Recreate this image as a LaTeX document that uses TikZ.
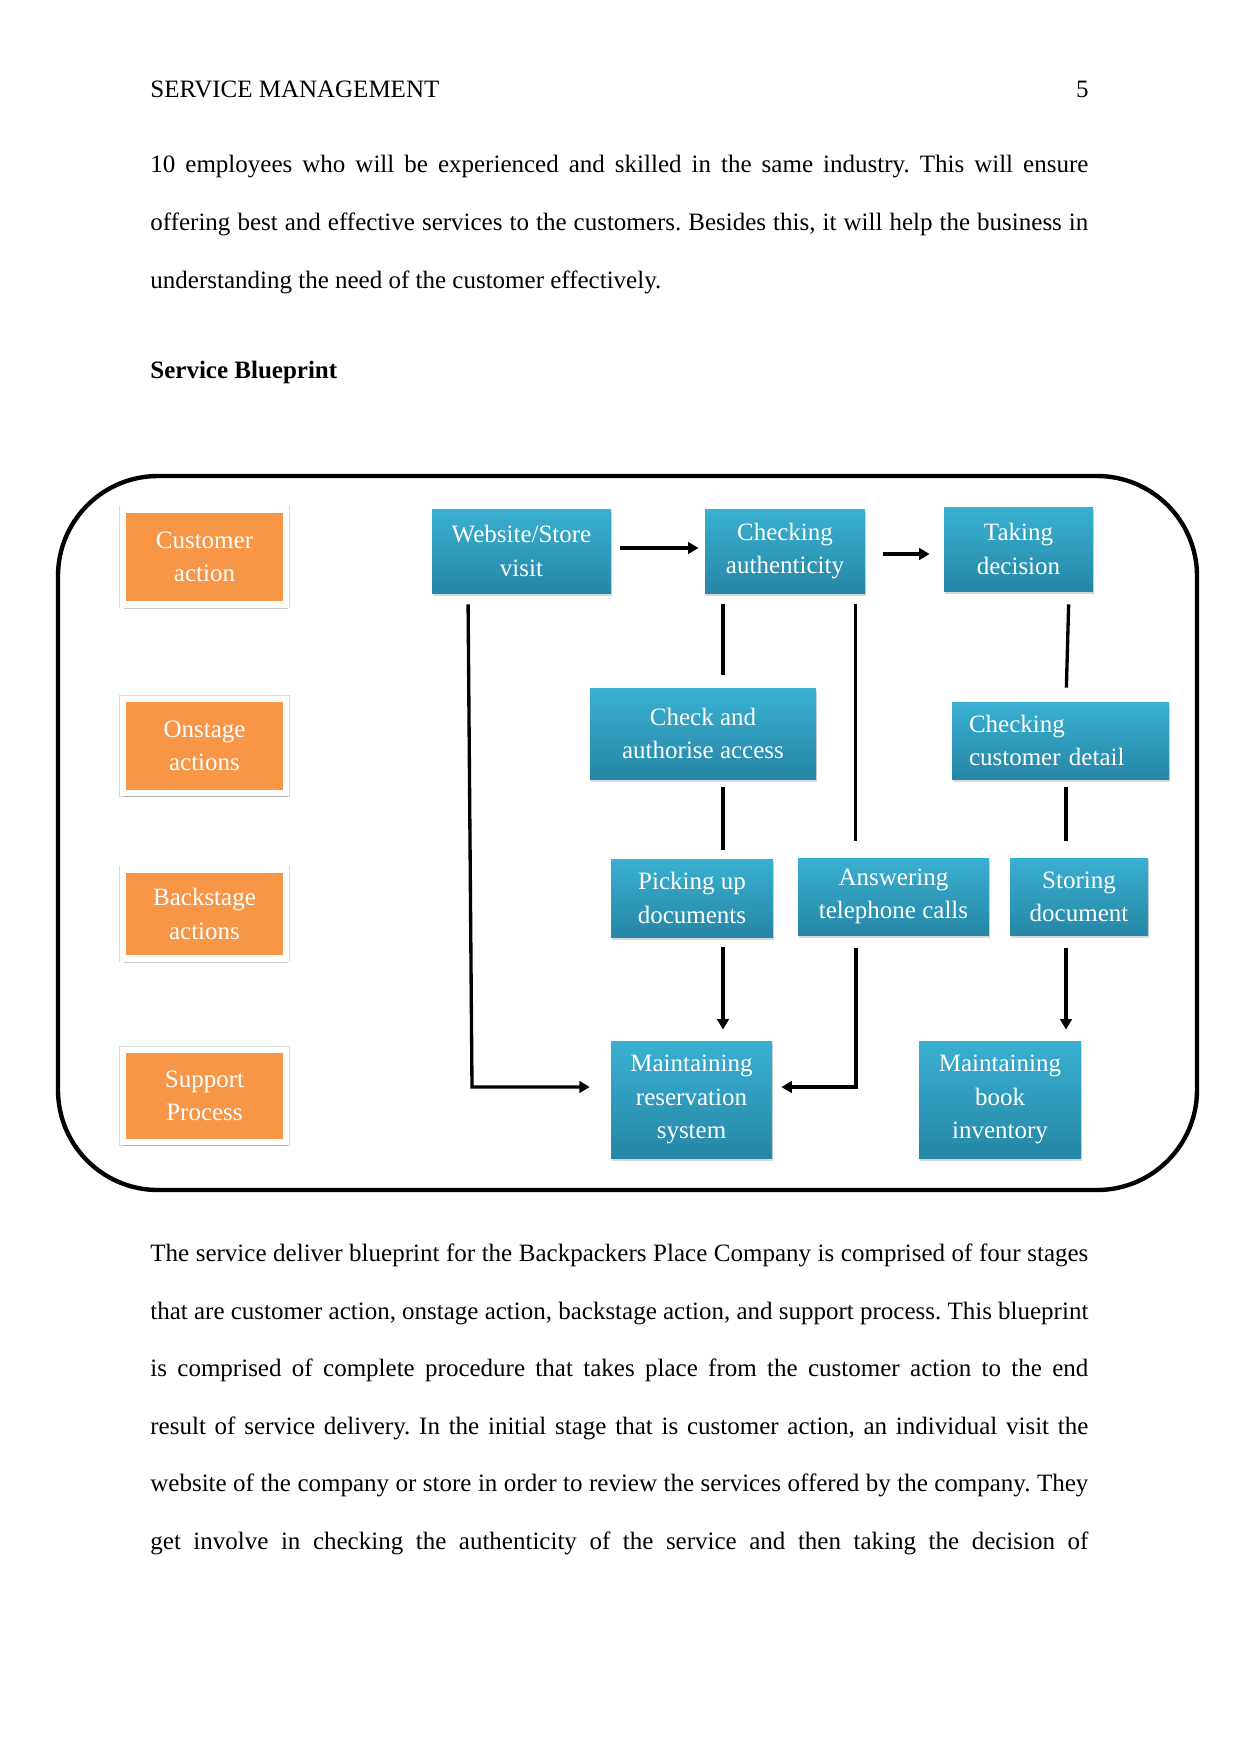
\documentclass[tikz,border=0pt]{standalone}
\usepackage{fontspec}
\setmainfont{Liberation Serif}
\usetikzlibrary{arrows.meta,shadows}
\definecolor{orng}{RGB}{247,150,70}
\definecolor{btop}{RGB}{58,176,210}
\definecolor{bbot}{RGB}{38,134,166}
\newlength{\txw}
\setlength{\txw}{450.2pt}
\newcommand{\jline}[1]{\makebox[\txw][s]{#1}}
\frenchspacing
\begin{document}
\begin{tikzpicture}[x=0.48pt,y=-0.48pt,
  bodytext/.style={anchor=base west,inner sep=0pt,font=\fontsize{12}{14}\selectfont},
  lanebox/.style={fill=orng,draw=white,line width=2.9pt,text=white,align=center,
    font=\fontsize{12}{16}\selectfont,inner sep=0pt,minimum width=163*0.48pt,
    preaction={draw=black!15,line width=3.7pt},
    drop shadow={opacity=0.3,fill=black!70,shadow xshift=0.7pt,shadow yshift=-1.9pt,shadow scale=1.01}},
  stepbox/.style={top color=btop,bottom color=bbot,text=white,align=center,
    font=\fontsize{12}{16}\selectfont,inner sep=0pt,
    drop shadow={opacity=0.3,shadow xshift=0.6pt,shadow yshift=-1.4pt}},
  ln/.style={line width=1.6pt},
  arr/.style={line width=1.6pt,-{Triangle[length=5pt,width=5.5pt]}}
]
\useasboundingbox (0,0) rectangle (1241,1754);
\fill[white] (0,0) rectangle (1241,1754);

% header and text
\node[bodytext] (hdr) at (150,97) {SERVICE MANAGEMENT};
\node[bodytext,anchor=base east] (pg) at (1089,97) {5};
\node[bodytext] (t1) at (150,172.7) {\jline{10 employees who will be experienced and skilled in the same industry. This will ensure}};
\node[bodytext] (t2) at (150,230.3) {\jline{offering best and effective services to the customers. Besides this, it will help the business in}};
\node[bodytext] (t3) at (150,288) {understanding the need of the customer effectively.};
\node[bodytext,font=\fontsize{12}{14}\selectfont\bfseries] (sb) at (150,378) {Service Blueprint};

\node[bodytext] (b1) at (150,1261) {\jline{The service deliver blueprint for the Backpackers Place Company is comprised of four stages}};
\node[bodytext] (b2) at (150,1319) {\jline{that are customer action, onstage action, backstage action, and support process. This blueprint}};
\node[bodytext] (b3) at (150,1376.5) {\jline{is comprised of complete procedure that takes place from the customer action to the end}};
\node[bodytext] (b4) at (150,1434) {\jline{result of service delivery. In the initial stage that is customer action, an individual visit the}};
\node[bodytext] (b5) at (150,1491.5) {\jline{website of the company or store in order to review the services offered by the company. They}};
\node[bodytext] (b6) at (150,1549) {\jline{get involve in checking the authenticity of the service and then taking the decision of}};

% frame
\draw[line width=2.1pt,rounded corners=48pt] (58,476) rectangle (1197,1190);

% lanes
\node[lanebox,minimum height=95*0.48pt] (cust) at (204.5,557) {Customer\\action};
\node[lanebox,minimum height=94*0.48pt] (onst) at (204.5,746) {Onstage\\actions};
\node[lanebox,minimum height=89*0.48pt] (back) at (204.5,914) {Backstage\\actions};
\node[lanebox,minimum height=92*0.48pt] (supp) at (204.5,1096) {Support\\Process};

% steps
\node[stepbox,minimum width=179*0.48pt,minimum height=84*0.48pt] (web) at (521.5,551) {Website/Store\\visit};
\node[stepbox,minimum width=160*0.48pt,minimum height=84*0.48pt] (chk) at (785,551) {Checking\\authenticity};
\node[stepbox,minimum width=149*0.48pt,minimum height=84*0.48pt] (take) at (1018.5,549) {Taking\\decision};
\node[stepbox,minimum width=226*0.48pt,minimum height=91*0.48pt] (auth) at (703,733.5) {Check and\\authorise access};
\node[stepbox,minimum width=217*0.48pt,minimum height=77*0.48pt,align=left,text width=183*0.48pt] (ccd) at (1060.5,740.5) {Checking\\customer detail};
\node[stepbox,minimum width=162*0.48pt,minimum height=78*0.48pt] (pick) at (692,898) {Picking up\\documents};
\node[stepbox,minimum width=191*0.48pt,minimum height=77*0.48pt] (ans) at (893.5,896.5) {Answering\\telephone calls};
\node[stepbox,minimum width=138*0.48pt,minimum height=77*0.48pt] (stor) at (1079,896.5) {Storing\\document};
\node[stepbox,minimum width=161*0.48pt,minimum height=117*0.48pt] (mres) at (691.5,1099.5) {Maintaining\\reservation\\system};
\node[stepbox,minimum width=162*0.48pt,minimum height=117*0.48pt] (mbook) at (1000,1099.5) {Maintaining\\book\\inventory};

% helper coordinates
\coordinate (colA) at (723,0);
\coordinate (colB) at (855.5,0);
\coordinate (colC) at (1066,0);
\coordinate (topW) at (468,0);
\coordinate (cornerW) at (472,1087);
\coordinate (cornerA) at (856,1087);
\coordinate (rowT) at (0,548);
\coordinate (rowT2) at (0,554);

% connectors
\draw[arr,shorten <=4.3pt,shorten >=2.9pt] (web.east |- rowT) -- (chk.west |- rowT);
\draw[arr,shorten <=8.2pt,shorten >=6.7pt] (chk.east |- rowT2) -- (take.west |- rowT2);
\draw[ln,shorten <=5.3pt,shorten >=6.2pt] (chk.south -| colA) -- (auth.north -| colA);
\draw[ln,shorten <=5.3pt,shorten >=8.2pt] (chk.south -| colB) -- (ans.north -| colB);
\draw[ln,shorten <=6.2pt,shorten >=6.7pt] ([xshift=50.5*0.48pt]take.south) -- ([xshift=5.5*0.48pt]ccd.north);
\draw[ln,shorten <=3.8pt,shorten >=4.3pt] (auth.south -| colA) -- (pick.north -| colA);
\draw[ln,shorten <=3.8pt,shorten >=8.2pt] (ccd.south -| colC) -- (stor.north -| colC);
\draw[arr,shorten <=4.8pt,shorten >=5.3pt] (pick.south -| colA) -- (mres.north -| colA);
\draw[arr,shorten <=5.8pt,shorten >=5.3pt] (stor.south -| colC) -- (mbook.north -| colC);
\draw[arr,shorten <=5.3pt,shorten >=10pt] (web.south -| topW) -- (cornerW) -- (mres.west |- cornerW);
\draw[arr,shorten <=5.8pt,shorten >=4.3pt] (ans.south -| cornerA) -- (cornerA) -- (mres.east |- cornerA);
\end{tikzpicture}
\end{document}
